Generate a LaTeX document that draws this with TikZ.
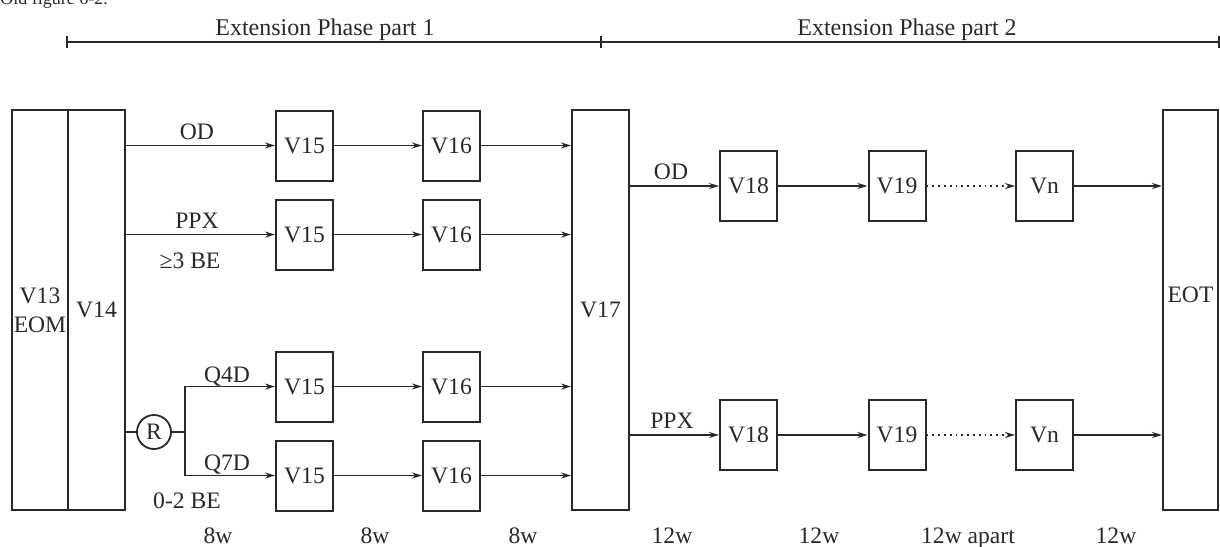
\documentclass[tikz,border=0pt]{standalone}
\usepackage{fontspec}
\setmainfont{Liberation Serif}
\usetikzlibrary{arrows.meta,calc}
\definecolor{ink}{RGB}{40,40,40}
\begin{document}
\begin{tikzpicture}[x=0.5pt,y=-0.5pt,
  every node/.style={font=\fontsize{11.8}{14.5}\selectfont, text=ink, inner sep=0pt},
  box/.style={draw=ink, line width=1pt, minimum width=28.5pt, minimum height=35pt, align=center},
  tallbox/.style={draw=ink, line width=1pt, minimum width=28.5pt, minimum height=200pt, align=center},
  conn/.style={draw=ink, line width=0.9pt},
  arr/.style={conn, -{Stealth[length=5pt,width=3pt]}},
  darr/.style={arr, dotted},
  lbl/.style={anchor=base},
  hdr/.style={anchor=base, font=\fontsize{12}{14}\selectfont},
]
\useasboundingbox (0,0) rectangle (1220,546);

% title (cut by the page edge, as in the reference)
\node[anchor=base west, font=\fontsize{9}{11}\selectfont] (title) at (0,4) {Old figure 6-2.};

% phase bar
\coordinate (pL) at (67,42);
\coordinate (pM) at (601,42);
\coordinate (pR) at (1219,42);
\draw[conn, line width=1pt] (pL) -- (pR);
\draw[conn, line width=1pt] ($(pL)+(0,-6)$) -- ($(pL)+(0,6)$);
\draw[conn, line width=1pt] ($(pM)+(0,-6)$) -- ($(pM)+(0,6)$);
\draw[conn, line width=1pt] ($(pR)+(0,-6)$) -- ($(pR)+(0,6)$);
\node[hdr] (ph1) at (325,35) {Extension Phase part 1};
\node[hdr] (ph2) at (907,35) {Extension Phase part 2};

% tall boxes
\node[tallbox, minimum width=28pt] (V13) at (40,310) {V13\\EOM};
\node[tallbox] (V14) at (96.5,310) {V14};
\node[tallbox] (V17) at (600.5,310) {V17};
\node[tallbox, minimum width=27.5pt, label={[yshift=7.5pt]center:EOT}] (EOT) at (1190.5,310) {};

% part 1 boxes
\foreach \i/\y in {1/145.5,2/234.5,3/386.5,4/475.5}{
  \node[box] (a\i) at (304.5,\y) {V15};
  \node[box] (b\i) at (451.5,\y) {V16};
}

% part 2 boxes
\foreach \i/\y in {1/186,2/435}{
  \node[box] (c\i) at (748.5,\y) {V18};
  \node[box] (d\i) at (897,\y) {V19};
  \node[box] (e\i) at (1044.5,\y) {Vn};
}

% R circle
\node[draw=ink, line width=0.9pt, circle, minimum size=17pt] (R) at (154,432) {R};
\coordinate (fork) at (185,432);

% connectors part 1
\draw[arr] (V14.east |- a1.west) -- (a1.west);
\draw[arr] (V14.east |- a2.west) -- (a2.west);
\draw[conn] (V14.east |- R) -- (R.west);
\draw[conn] (R.east) -- (fork);
\draw[arr] (fork) |- (a3.west);
\draw[arr] (fork) |- (a4.west);
\foreach \i in {1,2,3,4}{
  \draw[arr] (a\i.east) -- (b\i.west);
  \draw[arr] (b\i.east) -- (V17.west |- b\i.east);
}

% connectors part 2
\foreach \i in {1,2}{
  \draw[arr] (V17.east |- c\i.west) -- (c\i.west);
  \draw[arr] (c\i.east) -- (d\i.west);
  \draw[darr] (d\i.east) -- (e\i.west);
  \draw[arr] (e\i.east) -- (EOT.west |- e\i.east);
}

% labels
\node[lbl] (lOD1) at (197,139) {OD};
\node[lbl] (lPPX1) at (197,228) {PPX};
\node[lbl] (lBE3) at (190,268) {≥3 BE};
\node[lbl] (lQ4D) at (227,382) {Q4D};
\node[lbl] (lQ7D) at (227,470) {Q7D};
\node[lbl] (lBE02) at (187,508) {0-2 BE};
\node[lbl] (lOD2) at (671,179) {OD};
\node[lbl] (lPPX2) at (672,428) {PPX};

% bottom spacing labels
\node[lbl] (w1) at (218,543) {8w};
\node[lbl] (w2) at (375,543) {8w};
\node[lbl] (w3) at (523,543) {8w};
\node[lbl] (w4) at (672,543) {12w};
\node[lbl] (w5) at (819,543) {12w};
\node[lbl] (w6) at (968,543) {12w apart};
\node[lbl] (w7) at (1116,543) {12w};
\end{tikzpicture}
\end{document}
